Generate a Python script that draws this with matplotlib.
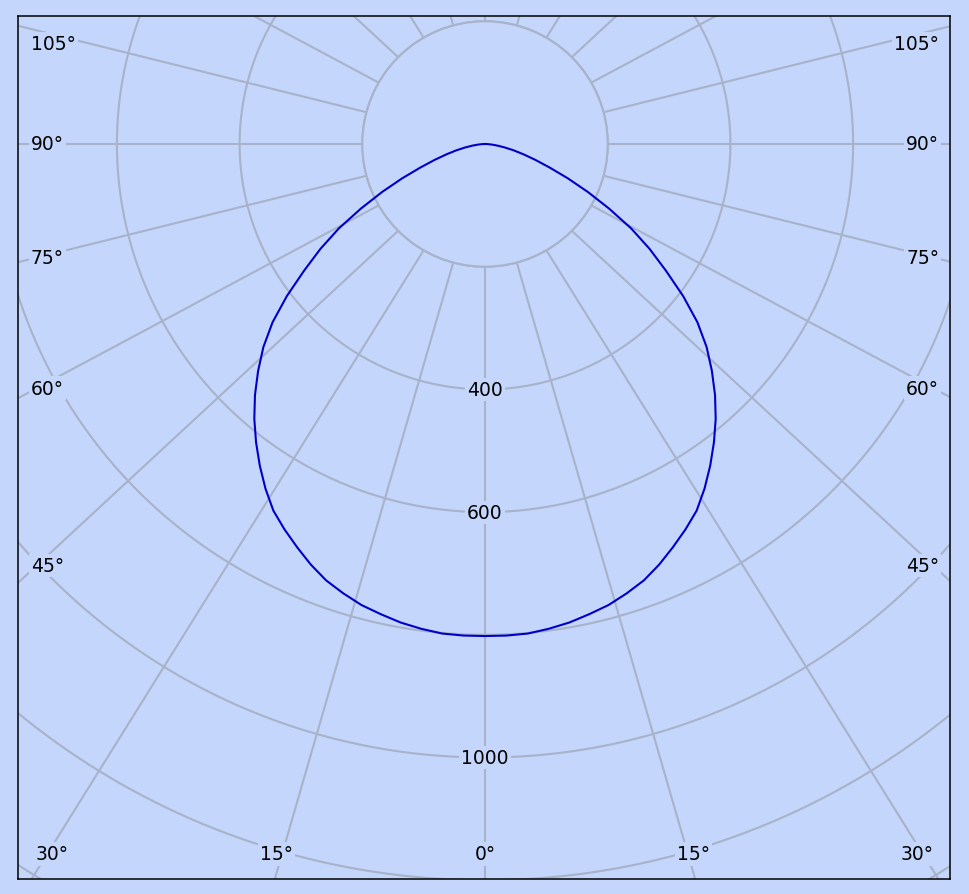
import numpy as np
import matplotlib.pyplot as plt

# luminous intensity (cd) vs angle from nadir, symmetric curve
angles = [0, 2.5, 5, 7.5, 10, 12.5, 15, 17.5, 20, 22.5, 25, 27.5, 30, 32.5, 35, 37.5,
          40, 42.5, 45, 47.5, 50, 52.5, 55, 57.5, 60, 62.5, 65, 67.5, 70, 72.5, 75,
          77.5, 80, 82.5, 85, 87.5, 90]
intensity = [802, 802, 801, 797, 792, 785, 778, 768, 757, 742, 725, 708, 690, 666, 640, 613,
             585, 555, 523, 490, 452, 407, 360, 318, 275, 228, 185, 146, 112, 86, 65,
             48, 33, 21, 12, 5, 0]

ring_values = [200, 400, 600, 800, 1000, 1200, 1400, 1600]
ring_labels = [400, 600, 1000]
angle_ticks = [0, 15, 30, 45, 60, 75, 90, 105]

BG = "#c4d6fb"
GRID = "#a8b2c9"
CURVE = "#0000c8"

W, H = 969, 895
fig = plt.figure(figsize=(W / 100, H / 100), dpi=100, facecolor=BG)
ax = fig.add_axes([18 / W, 15 / H, 932 / W, 863 / H])
ax.set_facecolor(BG)

k = 0.6135  # pixels per cd
px = 1 / k
xlim = (-467 * px, 465 * px)
ylim = (-735 * px, 128 * px)
ax.set_xlim(*xlim)
ax.set_ylim(*ylim)
ax.set_xticks([])
ax.set_yticks([])
for s in ax.spines.values():
    s.set_color("black")
    s.set_linewidth(1.1)

xr = xlim[1] - xlim[0]
yr = ylim[1] - ylim[0]

# rings
t = np.linspace(0, 2 * np.pi, 720)
for r in ring_values:
    ax.plot(r * np.cos(t), r * np.sin(t), color=GRID, lw=1.5, zorder=1)

# radial lines from the inner ring outward
r_in = ring_values[0]
fs = 13.5
for a in range(0, 181, 15):
    th = np.radians(a)
    for sgn in ([1] if a in (0, 180) else [-1, 1]):
        x0, y0 = sgn * r_in * np.sin(th), -r_in * np.cos(th)
        dx, dy = sgn * np.sin(th) * xr, -np.cos(th) * yr
        ax.plot([x0, x0 + 3 * dx], [y0, y0 + 3 * dy], color=GRID, lw=1.5, zorder=1)

        if a not in angle_ticks:
            continue
        lab = f"{a}\u00b0"
        y_bot = ylim[0] + 25 * px
        y_top = ylim[1] - 28 * px
        x_side = (xlim[0] + 19 * px) if sgn < 0 else (xlim[1] - 17 * px)
        y_side = None
        if abs(dx) > 1e-9:
            tt = (x_side - x0) / dx
            y_side = y0 + tt * dy
        if y_side is None or y_side < y_bot:
            tt = (y_bot - y0) / dy
            xb = x0 + tt * dx
            xb = xb + np.sign(xb) * 6 * px
            xb = min(max(xb, xlim[0] + 34 * px), xlim[1] - 33 * px)
            ax.text(xb, y_bot, lab, ha="center", va="center", fontsize=fs, zorder=3,
                    bbox=dict(facecolor=BG, edgecolor="none", pad=1.5))
        else:
            ys = min(y_side, y_top)
            if sgn < 0:
                ax.text(xlim[0] + 13 * px, ys, lab, ha="left", va="center", fontsize=fs, zorder=3,
                        bbox=dict(facecolor=BG, edgecolor="none", pad=1.5))
            else:
                ax.text(xlim[1] - 11 * px, ys, lab, ha="right", va="center", fontsize=fs, zorder=3,
                        bbox=dict(facecolor=BG, edgecolor="none", pad=1.5))

# inner disk covers the centre
ax.add_patch(plt.Circle((0, 0), r_in, facecolor=BG, edgecolor=GRID, lw=1.5, zorder=1.5))

for v in ring_labels:
    ax.text(0, -v, str(v), ha="center", va="center", fontsize=fs, zorder=3,
            bbox=dict(facecolor=BG, edgecolor="none", pad=1.5))

# intensity curve, mirrored about nadir
ang = np.radians(np.array(angles, dtype=float))
I = np.array(intensity, dtype=float)
full_ang = np.concatenate([-ang[::-1], ang[1:]])
full_I = np.concatenate([I[::-1], I[1:]])
ax.plot(full_I * np.sin(full_ang), -full_I * np.cos(full_ang), color=CURVE, lw=1.5, zorder=2)

fig.savefig("out.png", dpi=100, facecolor=BG)
